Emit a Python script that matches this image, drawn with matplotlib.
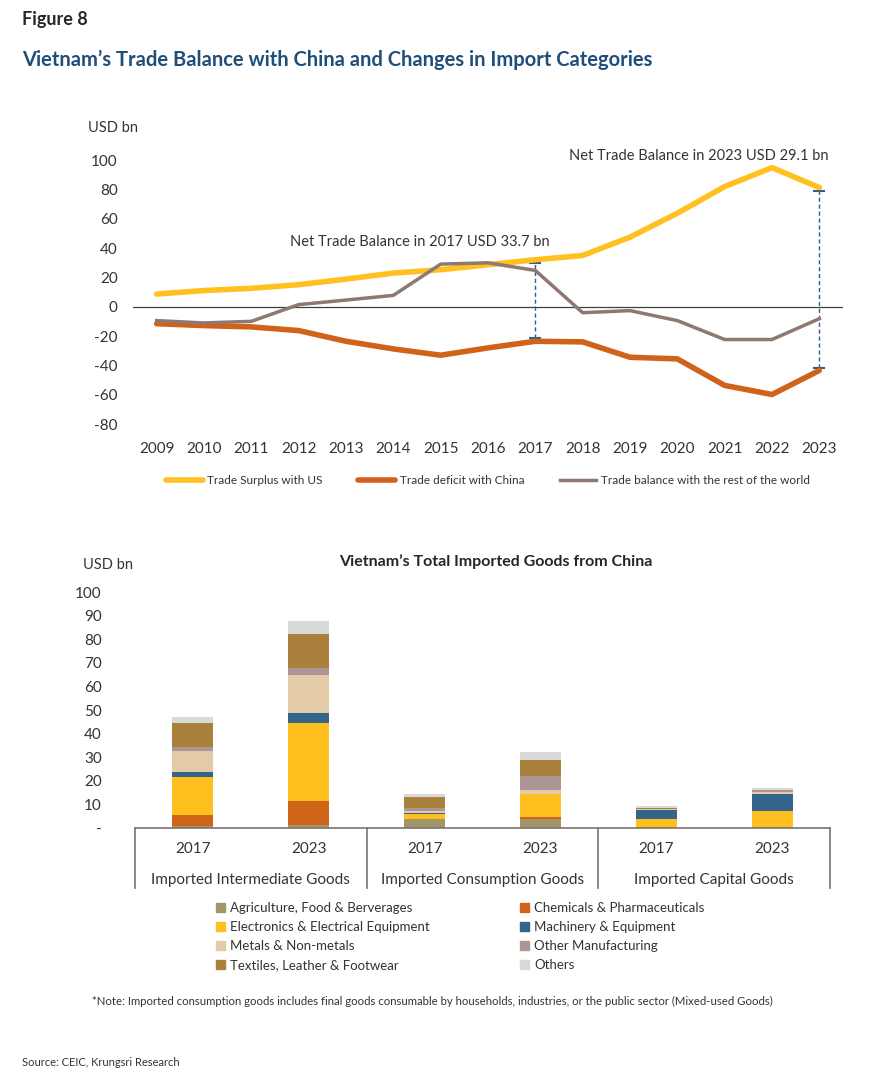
import matplotlib
matplotlib.use("Agg")
import matplotlib.pyplot as plt
import numpy as np
from matplotlib.patches import Patch
from matplotlib.lines import Line2D

plt.rcParams['font.family'] = ['Lato', 'DejaVu Sans']
plt.rcParams['axes.unicode_minus'] = False

# ---------------- data ----------------
years = list(range(2009, 2024))
us_surplus = [8.6, 11.0, 12.5, 15.0, 18.8, 22.9, 25.2, 28.6, 32.0, 34.9, 47.4, 63.7, 81.9, 94.8, 81.2]
china_deficit = [-11.6, -12.9, -13.8, -16.3, -23.6, -28.8, -33.1, -28.1, -23.6, -24.0, -34.5, -35.6, -53.7, -59.9, -43.5]
rest_world = [-9.5, -11.1, -10.0, 1.4, 4.5, 7.7, 29.0, 29.9, 24.7, -4.1, -2.7, -9.5, -22.4, -22.4, -8.2]
annot_years = [2017, 2023]
annot_texts = ["Net Trade Balance in 2017 USD 33.7 bn", "Net Trade Balance in 2023 USD 29.1 bn"]

bar_years = ["2017", "2023", "2017", "2023", "2017", "2023"]
groups = ["Imported Intermediate Goods", "Imported Consumption Goods", "Imported Capital Goods"]
categories = ["Agriculture, Food & Berverages", "Chemicals & Pharmaceuticals",
              "Electronics & Electrical Equipment", "Machinery & Equipment",
              "Metals & Non-metals", "Other Manufacturing",
              "Textiles, Leather & Footwear", "Others"]
agri     = [1.0, 1.3, 3.7, 3.9, 0.0, 0.0]
chem     = [4.4, 10.0, 0.1, 0.6, 0.0, 0.0]
elec     = [16.2, 33.1, 2.3, 9.8, 3.7, 7.1]
mach     = [2.0, 4.3, 0.2, 0.1, 3.8, 7.4]
metals   = [9.2, 16.1, 0.9, 1.7, 0.4, 0.7]
othman   = [1.5, 3.1, 1.3, 5.9, 0.3, 0.8]
textiles = [10.1, 14.2, 4.8, 6.9, 0.1, 0.3]
others   = [2.8, 5.6, 1.1, 3.3, 0.9, 0.5]

line_colors = ["#FFC020", "#D0621A", "#8F7772"]
cat_colors = ["#A09868", "#D0651A", "#FFBF1F", "#33658A", "#E2CBA6", "#AC9593", "#A9803C", "#D9D9D9"]
txt = "#333333"

fig = plt.figure(figsize=(8.72, 10.82), dpi=100)

fig.text(22/872, 1-20/1082, "Figure 8", fontsize=13, fontweight='bold', color="#262626", va='center', ha='left')
fig.text(22/872, 1-60/1082, "Vietnam\u2019s Trade Balance with China and Changes in Import Categories",
         fontsize=14.5, fontweight='bold', color="#1F4E79", va='center', ha='left')

# ---------------- top chart ----------------
ax1 = fig.add_axes([133/872, 1-424/1082, (843-133)/872, (424-160)/1082])
ax1.plot(years, us_surplus, color=line_colors[0], lw=4, solid_capstyle='round', label="Trade Surplus with US", zorder=3)
ax1.plot(years, china_deficit, color=line_colors[1], lw=4, solid_capstyle='round', label="Trade deficit with China", zorder=3)
ax1.plot(years, rest_world, color=line_colors[2], lw=2.5, label="Trade balance with the rest of the world", zorder=3)
ax1.axhline(0, color="#404040", lw=0.9, zorder=1)
ax1.set_xlim(2008.5, 2023.5)
ax1.set_ylim(-80, 100)
ax1.set_xticks(years)
ax1.set_yticks(np.arange(-80, 101, 20))
ax1.tick_params(length=0, labelsize=11, colors=txt)
ax1.tick_params(axis='y', pad=11)
ax1.tick_params(axis='x', pad=13)
for s in ax1.spines.values():
    s.set_visible(False)
for yr in annot_years:
    i = years.index(yr)
    top = us_surplus[i] - 2
    bot = china_deficit[i] + 2
    ax1.plot([yr, yr], [bot, top], color="#2E5F8A", lw=1, ls=(0, (3, 2)), zorder=2)
    ax1.plot([yr, yr], [bot, top], color="#2E5F8A", lw=0, marker='_', ms=8, mew=1.5, zorder=2)
ax1.text(2017.3, 44, annot_texts[0], fontsize=10.5, color=txt, ha='right', va='center')
ax1.text(2023.2, 102.5, annot_texts[1], fontsize=10.5, color=txt, ha='right', va='center')
fig.text(88/872, 1-128/1082, "USD bn", fontsize=10.5, color=txt, va='center', ha='left')

h, l = ax1.get_legend_handles_labels()
fig.legend(h, l, loc='center', bbox_to_anchor=(488/872, 1-481/1082), ncol=3, frameon=False,
           fontsize=8.5, handlelength=3.1, handletextpad=0.4, columnspacing=3.0, labelcolor=txt)

# ---------------- bottom chart ----------------
ax2 = fig.add_axes([135/872, 1-828/1082, (830-135)/872, (828-592)/1082])
x = np.arange(len(bar_years))
series = [agri, chem, elec, mach, metals, othman, textiles, others]
bottom = np.zeros(len(x))
handles = []
for name, vals, c in zip(categories, series, cat_colors):
    ax2.bar(x, vals, bottom=bottom, width=0.355, color=c, label=name, zorder=2)
    bottom += np.array(vals)
    handles.append(Patch(color=c, label=name))
ax2.set_xlim(-0.5, 5.5)
ax2.set_ylim(0, 100)
ax2.set_yticks(np.arange(0, 101, 10))
ax2.set_yticklabels(["-"] + [str(v) for v in range(10, 101, 10)])
ax2.tick_params(length=0, labelsize=11, colors=txt)
ax2.tick_params(axis='y', pad=24)
ax2.set_xticks([])
for k, s in ax2.spines.items():
    s.set_visible(k == 'bottom')
ax2.spines['bottom'].set_color("#7F7170")
ax2.spines['bottom'].set_linewidth(1.2)
tr = ax2.get_xaxis_transform()
for xi, yl in zip(x, bar_years):
    ax2.text(xi, -21/236, yl, transform=tr, ha='center', va='center', fontsize=11, color=txt)
for gi, g in enumerate(groups):
    ax2.text(2*gi + 0.5, -52/236, g, transform=tr, ha='center', va='center', fontsize=11, color=txt)
for xb in [-0.5, 1.5, 3.5, 5.5]:
    ax2.add_line(Line2D([xb, xb], [0, -60/236], transform=tr, color="#7F7170", lw=1.2, clip_on=False))
fig.text(83/872, 1-565/1082, "USD bn", fontsize=10.5, color=txt, va='center', ha='left')
fig.text(496/872, 1-562/1082, "Vietnam\u2019s Total Imported Goods from China", fontsize=11.5,
         fontweight='bold', color="#262626", va='center', ha='center')

order = [0, 2, 4, 6, 1, 3, 5, 7]
fig.legend([handles[i] for i in order], [categories[i] for i in order], loc='upper left',
           bbox_to_anchor=(204/872, 1-890/1082), ncol=2, frameon=False, fontsize=9.5,
           handlelength=0.7, handleheight=0.7, handletextpad=0.4, columnspacing=6.8,
           labelspacing=0.53, labelcolor=txt)

fig.text(92/872, 1-1001/1082, "*Note: Imported consumption goods includes final goods consumable by households, industries, or the public sector (Mixed-used Goods)",
         fontsize=8.2, color=txt, va='center', ha='left')
fig.text(22/872, 1-1062/1082, "Source: CEIC, Krungsri Research", fontsize=8, color=txt, va='center', ha='left')

fig.savefig("out.png", dpi=100)
